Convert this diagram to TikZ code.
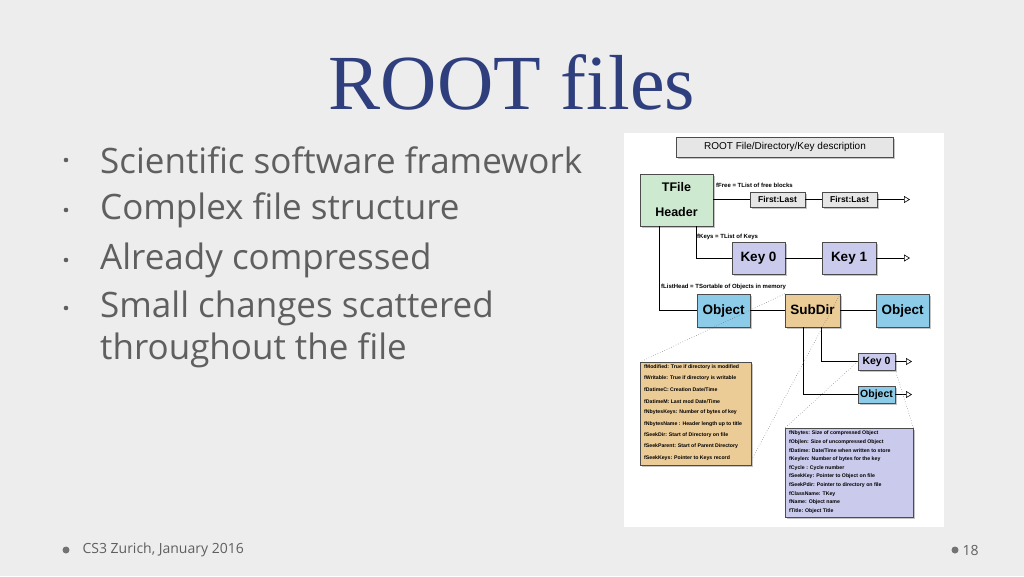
\documentclass[tikz,border=0pt]{standalone}
\usepackage{fontspec}
\setmainfont{Open Sans}
\newfontfamily\diafont{Liberation Sans}
\newfontfamily\titlefont{Liberation Serif}
\usetikzlibrary{arrows.meta,shadows}
\definecolor{titleblue}{HTML}{2F3F7E}
\definecolor{slidegray}{HTML}{5F5F5F}
\definecolor{tfilegreen}{HTML}{CDE9CF}
\definecolor{keyblue}{HTML}{CACAEC}
\definecolor{objblue}{HTML}{8CCCE8}
\definecolor{dirorange}{HTML}{EBCB96}
\definecolor{boxgray}{HTML}{E6E6E6}
\tikzset{
  rbox/.style={draw=black!70,line width=0.5pt,drop shadow={shadow xshift=1.5pt,shadow yshift=-1.5pt,fill=black!45},
    font=\diafont\bfseries,inner sep=0pt,align=center},
  bigbox/.style={rbox,font=\diafont\bfseries\fontsize{13.5}{15}\selectfont,text height=10pt,text depth=3pt},
  smallbox/.style={rbox,font=\diafont\bfseries\fontsize{10.5}{12}\selectfont,text height=8pt,text depth=2pt},
  note/.style={font=\diafont\bfseries\fontsize{5.2}{6}\selectfont,anchor=west,inner sep=0pt},
  label/.style={font=\diafont\bfseries\fontsize{6}{7}\selectfont,anchor=west,inner sep=0pt},
  link/.style={line width=0.6pt},
  tail/.style={line width=0.6pt,-{Triangle[open,length=6pt,width=7pt]}},
  zoomline/.style={dotted,line width=0.5pt,black!60},
  bulletitem/.style={anchor=west,font=\fontsize{35}{40}\selectfont,text=slidegray,inner sep=0pt}
}
\begin{document}
\begin{tikzpicture}[x=1pt,y=-1pt]
\fill[black!7] (0,0) rectangle (1024,576);
\useasboundingbox (0,0) rectangle (1024,576);
% title and bullets
\node (title) at (512,82) {\titlefont\fontsize{78}{84}\selectfont\color{titleblue}ROOT files};
\foreach \y/\txt [count=\i] in {160/Scientific software framework,210/Complex file structure,260/Already compressed,308/Small changes scattered}{
  \node[bulletitem] (b\i) at (100,\y) {\txt};
  \fill[slidegray] (66,\y) circle (2.3);
}
\node[bulletitem] (b5) at (100,350) {throughout the file};
% footer
\fill[black!55] (66,550) circle (3.5);
\node[anchor=west,font=\fontsize{14}{16}\selectfont,text=slidegray] (foot) at (79,550) {CS3 Zurich, January 2016};
\fill[black!55] (955,550) circle (3.5);
\node[anchor=west,font=\fontsize{14}{16}\selectfont,text=slidegray] (page) at (959,550) {18};
% diagram panel
\fill[white] (624,133) rectangle (944,527);
\node[rbox,fill=boxgray,minimum width=217,minimum height=20,font=\diafont\fontsize{10}{12}\selectfont] (head) at (785,147) {ROOT File/Directory/Key description};
\node[rbox,fill=tfilegreen,minimum width=73,minimum height=52,font=\diafont\bfseries\fontsize{12.5}{25}\selectfont] (tfile) at (676.5,200) {TFile\\Header};
\node[rbox,fill=boxgray,minimum width=55,minimum height=15,font=\diafont\bfseries\fontsize{8.5}{10}\selectfont] (fl1) at (777.5,199.5) {First:Last};
\node[rbox,fill=boxgray,minimum width=55,minimum height=15,font=\diafont\bfseries\fontsize{8.5}{10}\selectfont] (fl2) at (849.5,199.5) {First:Last};
\coordinate (freeend) at (910,199.5);
\node[bigbox,fill=keyblue,minimum width=53,minimum height=32] (key0) at (758.5,258) {Key 0};
\node[bigbox,fill=keyblue,minimum width=54,minimum height=32] (key1) at (849,258) {Key 1};
\coordinate (keyend) at (910,258);
\node[bigbox,fill=objblue,minimum width=53,minimum height=33] (obj1) at (723.5,310.5) {Object};
\node[bigbox,fill=dirorange,minimum width=55,minimum height=33] (subdir) at (812.5,310.5) {SubDir};
\node[bigbox,fill=objblue,minimum width=53,minimum height=33] (obj2) at (902.5,310.5) {Object};
\node[smallbox,fill=keyblue,minimum width=37,minimum height=17] (skey) at (876.5,361.5) {Key 0};
\node[smallbox,fill=objblue,minimum width=37,minimum height=17] (sobj) at (876.5,394.5) {Object};
\coordinate (skeyend) at (912,361.5);
\coordinate (sobjend) at (912,394.5);
% labels
\node[label] (lfree) at (716,185) {fFree = TList of free blocks};
\node[label] (lkeys) at (697,237) {fKeys = TList of Keys};
\node[label] (llist) at (661,287) {fListHead = TSortable of Objects in memory};
% connectors
\draw[link] (tfile.east |- fl1) -- (fl1);
\draw[link] (fl1) -- (fl2);
\draw[tail] (fl2) -- (freeend);
\draw[link] (tfile.south -| 696,0) |- (key0);
\draw[link] (key0) -- (key1);
\draw[tail] (key1) -- (keyend);
\draw[link] (tfile.south -| 659,0) |- (obj1);
\draw[link] (obj1) -- (subdir);
\draw[link] (subdir) -- (obj2);
\draw[link] (subdir.south -| 821,0) |- (skey);
\draw[link] (subdir.south -| 803,0) |- (sobj);
\draw[tail] (skey) -- (skeyend);
\draw[tail] (sobj) -- (sobjend);
% detail boxes
\node[rbox,fill=dirorange,minimum width=111,minimum height=103,anchor=north west] (dirbox) at (640,362) {};
\foreach \t [count=\i] in {fModified: True if directory is modified,fWritable: True if directory is writable,fDatimeC: Creation Date/Time,fDatimeM: Last mod Date/Time,fNbytesKeys: Number of bytes of key,fNbytesName : Header length up to title,fSeekDir: Start of Directory on file,fSeekParent: Start of Parent Directory,fSeekKeys: Pointer to Keys record}
  \node[note] (dl\i) at (644,{356+11.3*\i}) {\t};
\node[rbox,fill=keyblue,minimum width=128,minimum height=89,anchor=north west] (keybox) at (785,428) {};
\foreach \t [count=\i] in {fNbytes: Size of compressed Object,fObjlen: Size of uncompressed Object,fDatime: Date/Time when written to store,fKeylen: Number of bytes for the key,fCycle : Cycle number,fSeekKey: Pointer to Object on file,fSeekPdir: Pointer to directory on file,fClassName: TKey,fName: Object name,fTitle: Object Title}
  \node[note] (kl\i) at (789,{425+8.6*\i}) {\t};
% zoom lines
\draw[zoomline] (subdir.north west) -- (dirbox.north west);
\draw[zoomline] (subdir.north east) -- (dirbox.east |- 0,460);
\draw[zoomline] (skey.west) -- (keybox.north west);
\draw[zoomline] (skey.south east) -- (keybox.north east);
\end{tikzpicture}
\end{document}
